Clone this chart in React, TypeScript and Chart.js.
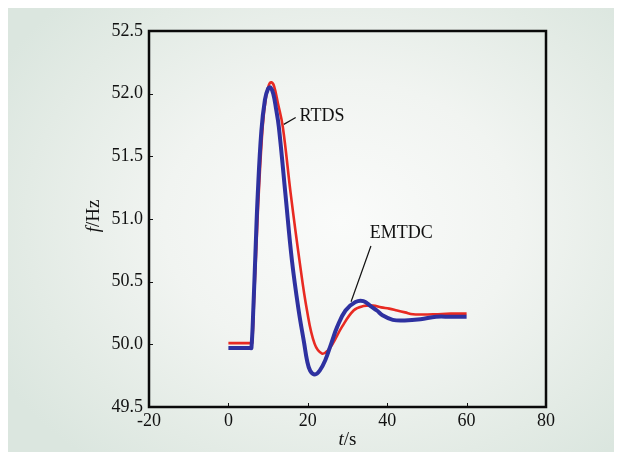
import React, { useEffect, useRef } from "react";
import { Chart, registerables } from "chart.js";

Chart.register(...registerables);

const rtdsT = [0, 5.7, 6.0, 6.5, 7.0, 7.64, 8.65, 9.5, 10.2, 10.83, 11.5, 12.5, 13.7, 15.7, 17.9, 19.8, 21.7, 23.6, 25.0, 26.3, 28.6, 31.6, 34.0, 36.4, 38.5, 40.5, 42.5, 44.5, 46.5, 49.0, 52.0, 56.0, 60.0];
const rtdsF = [50.01, 50.01, 50.01, 50.38, 50.74, 51.2, 51.74, 51.98, 52.07, 52.09, 52.06, 51.92, 51.736, 51.2, 50.67, 50.27, 50.006, 49.926, 49.95, 50.006, 50.139, 50.272, 50.305, 50.31, 50.295, 50.285, 50.27, 50.255, 50.24, 50.238, 50.24, 50.245, 50.245];

const emtdcT = [0, 5.5, 5.8, 6.3, 6.8, 7.4, 8.3, 9.2, 10.0, 10.6, 11.3, 12.0, 12.7, 14.36, 16.0, 17.7, 19.1, 19.8, 20.6, 21.8, 23.0, 24.4, 25.9, 27.4, 29.5, 32.0, 34.0, 36.0, 37.4, 38.9, 41.4, 44.4, 48.4, 52.3, 56.0, 60.0];
const emtdcF = [49.97, 49.97, 49.97, 50.3, 50.72, 51.2, 51.7, 51.95, 52.04, 52.05, 52.0, 51.88, 51.736, 51.2, 50.67, 50.27, 50.006, 49.873, 49.79, 49.76, 49.79, 49.873, 50.006, 50.139, 50.27, 50.338, 50.345, 50.3, 50.27, 50.23, 50.195, 50.19, 50.2, 50.22, 50.22, 50.22];

const xTicks = [-20, 0, 20, 40, 60, 80];
const yTicks = [49.5, 50.0, 50.5, 51.0, 51.5, 52.0, 52.5];

const annLabels = ["RTDS", "EMTDC"];
const annTextT = [17.9, 35.6];
const annTextF = [51.82, 50.89];
const annFromT = [16.95, 35.9];
const annFromF = [51.81, 50.785];
const annToT = [13.96, 30.9];
const annToF = [51.755, 50.34];

const decorPlugin = {
  id: "decor",
  afterDatasetsDraw(chart: any) {
    const { ctx, chartArea: a, scales } = chart;
    const xs = scales.x;
    const ys = scales.y;
    ctx.save();
    ctx.strokeStyle = "#111";
    ctx.lineWidth = 1;
    xTicks.slice(1, -1).forEach((t) => {
      const px = Math.round(xs.getPixelForValue(t)) + 0.5;
      ctx.beginPath();
      ctx.moveTo(px, a.bottom);
      ctx.lineTo(px, a.bottom - 4);
      ctx.stroke();
    });
    yTicks.slice(1, -1).forEach((v) => {
      const py = Math.round(ys.getPixelForValue(v)) + 0.5;
      ctx.beginPath();
      ctx.moveTo(a.left, py);
      ctx.lineTo(a.left + 4, py);
      ctx.stroke();
    });
    ctx.lineWidth = 2.5;
    ctx.strokeStyle = "#0a0a0a";
    ctx.strokeRect(a.left, a.top, a.right - a.left, a.bottom - a.top);
    ctx.lineWidth = 1.2;
    ctx.strokeStyle = "#111";
    ctx.fillStyle = "#111";
    ctx.font = "18px 'Liberation Serif'";
    ctx.textBaseline = "middle";
    ctx.textAlign = "left";
    annLabels.forEach((lab, i) => {
      ctx.beginPath();
      ctx.moveTo(xs.getPixelForValue(annFromT[i]), ys.getPixelForValue(annFromF[i]));
      ctx.lineTo(xs.getPixelForValue(annToT[i]), ys.getPixelForValue(annToF[i]));
      ctx.stroke();
      ctx.fillText(lab, xs.getPixelForValue(annTextT[i]), ys.getPixelForValue(annTextF[i]));
    });
    const drawTitle = (italicPart: string, rest: string, cx: number, cy: number, rot: number) => {
      ctx.save();
      ctx.translate(cx, cy);
      ctx.rotate(rot);
      ctx.font = "italic 19px 'Liberation Serif'";
      const w1 = ctx.measureText(italicPart).width;
      ctx.font = "19px 'Liberation Serif'";
      const w2 = ctx.measureText(rest).width;
      const start = -(w1 + w2) / 2;
      ctx.textAlign = "left";
      ctx.textBaseline = "middle";
      ctx.font = "italic 19px 'Liberation Serif'";
      ctx.fillText(italicPart, start, 0);
      ctx.font = "19px 'Liberation Serif'";
      ctx.fillText(rest, start + w1, 0);
      ctx.restore();
    };
    drawTitle("t", "/s", (a.left + a.right) / 2, 432, 0);
    drawTitle("f", "/Hz", 86, 208, -Math.PI / 2);
    ctx.restore();
  },
};

export default function App() {
  const ref = useRef<HTMLCanvasElement>(null);
  useEffect(() => {
    if (!ref.current) return;
    const chart = new Chart(ref.current, {
      type: "line",
      data: {
        datasets: [
          {
            label: "RTDS",
            data: rtdsT.map((t, i) => ({ x: t, y: rtdsF[i] })),
            borderColor: "#e82a22",
            borderWidth: 2.6,
            pointRadius: 0,
            tension: 0.4,
            fill: false,
            order: 2,
          },
          {
            label: "EMTDC",
            data: emtdcT.map((t, i) => ({ x: t, y: emtdcF[i] })),
            borderColor: "#2e31a0",
            borderWidth: 4,
            pointRadius: 0,
            tension: 0.4,
            fill: false,
            order: 1,
          },
        ],
      },
      options: {
        responsive: false,
        animation: false,
        layout: { padding: { left: 0, top: 23, right: 68, bottom: 0 } },
        plugins: { legend: { display: false }, tooltip: { enabled: false } },
        scales: {
          x: {
            type: "linear",
            min: -20,
            max: 80,
            afterBuildTicks: (s: any) => {
              s.ticks = xTicks.map((v) => ({ value: v }));
            },
            afterFit: (s: any) => {
              s.height = 45;
            },
            grid: { display: false, drawTicks: false },
            border: { display: false },
            ticks: {
              color: "#111",
              padding: 3,
              font: { family: "'Liberation Serif'", size: 18 },
              callback: (v: any) => String(v),
            },
          },
          y: {
            type: "linear",
            min: 49.5,
            max: 52.5,
            afterBuildTicks: (s: any) => {
              s.ticks = yTicks.map((v) => ({ value: v }));
            },
            afterFit: (s: any) => {
              s.width = 141;
            },
            grid: { display: false, drawTicks: false },
            border: { display: false },
            ticks: {
              color: "#111",
              padding: 6,
              font: { family: "'Liberation Serif'", size: 18 },
              callback: (v: any) => Number(v).toFixed(1),
            },
          },
        },
      },
      plugins: [decorPlugin],
    });
    return () => chart.destroy();
  }, []);
  return (
    <div
      style={{
        width: 606,
        height: 444,
        background:
          "radial-gradient(ellipse 65% 70% at 55% 48%, #fafbfa 0%, #f1f4f1 45%, #e3ebe5 80%, #dbe6df 100%)",
      }}
    >
      <canvas ref={ref} width={606} height={444} style={{ display: "block" }} />
    </div>
  );
}
